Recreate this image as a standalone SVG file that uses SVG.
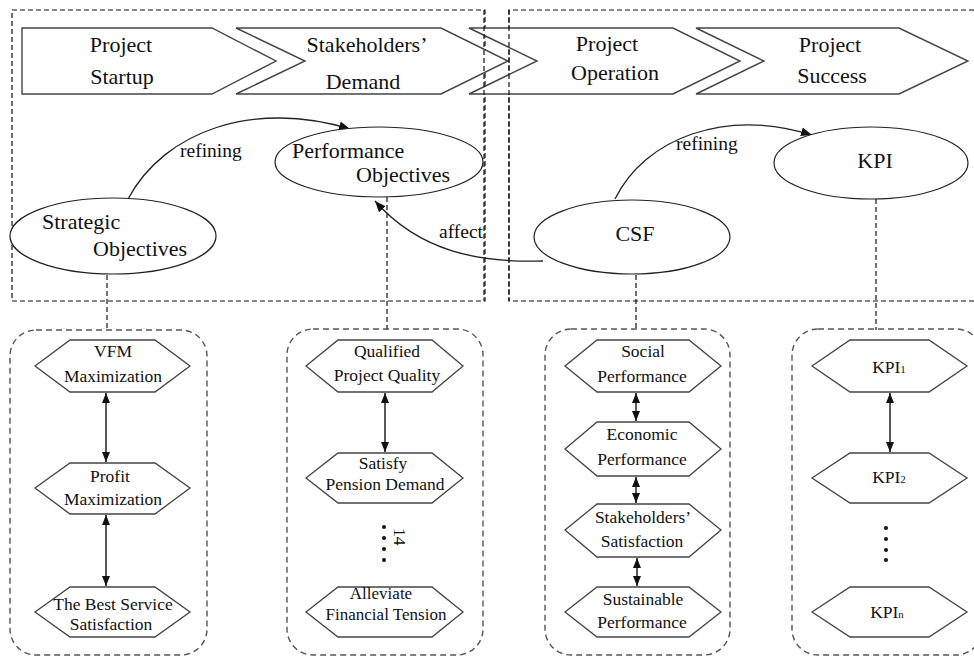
<svg xmlns="http://www.w3.org/2000/svg" width="974" height="657" viewBox="0 0 974 657">
<defs>
<style>
.t{font-family:"Liberation Serif",serif;fill:#111;}
.b{font-size:22px;}
.l{font-size:19.5px;}
.s{font-size:17.5px;}
.ch{fill:#fff;stroke:#444;stroke-width:1.4;}
.el{fill:#fff;stroke:#222;stroke-width:1.2;}
.hx{fill:#fff;stroke:#444;stroke-width:1.3;}
.frame{fill:none;stroke:#111;stroke-width:1.2;stroke-dasharray:5,3;}
.grp{fill:none;stroke:#555;stroke-width:1.4;stroke-dasharray:6,4;}
.dl{fill:none;stroke:#111;stroke-width:1.2;stroke-dasharray:5,3;}
.cv{fill:none;stroke:#222;stroke-width:1.3;}
.ar{fill:none;stroke:#111;stroke-width:1.4;marker-start:url(#ah);marker-end:url(#ah);}
</style>
<marker id="ah" viewBox="0 0 10 10" refX="10" refY="5" markerWidth="10" markerHeight="10" markerUnits="userSpaceOnUse" orient="auto-start-reverse">
<path d="M0,1 L10,5 L0,9 Z" fill="#111"/>
</marker>
<marker id="ae" viewBox="0 0 10 10" refX="10" refY="5" markerWidth="11" markerHeight="11" markerUnits="userSpaceOnUse" orient="auto">
<path d="M0,1 L10,5 L0,9 Z" fill="#111"/>
</marker>
</defs>

<g id="frames">
<rect class="frame" x="12" y="10" width="473" height="291"/>
<path class="frame" d="M974,10 L509,10 L509,301 L974,301"/>
</g>

<g id="stage-startup">
<path class="ch" d="M22,28 L212,28 L276,61 L212,94 L22,94 Z"/>
<text class="t b" font-family="Liberation Serif" x="121" y="52" text-anchor="middle">Project</text>
<text class="t b" font-family="Liberation Serif" x="122" y="84" text-anchor="middle">Startup</text>
</g>
<g id="stage-demand">
<path class="ch" d="M236,28 L441,28 L508,61 L441,94 L236,94 L305,61 Z"/>
<text class="t b" font-family="Liberation Serif" x="367" y="52" text-anchor="middle">Stakeholders’</text>
<text class="t b" font-family="Liberation Serif" x="363" y="89" text-anchor="middle">Demand</text>
</g>
<g id="stage-operation">
<path class="ch" d="M469,28 L673,28 L740,61 L673,94 L469,94 L537,61 Z"/>
<text class="t b" font-family="Liberation Serif" x="607" y="51" text-anchor="middle">Project</text>
<text class="t b" font-family="Liberation Serif" x="615" y="80" text-anchor="middle">Operation</text>
</g>
<g id="stage-success">
<path class="ch" d="M696,28 L899,28 L968,61 L899,94 L696,94 L764,61 Z"/>
<text class="t b" font-family="Liberation Serif" x="830" y="52" text-anchor="middle">Project</text>
<text class="t b" font-family="Liberation Serif" x="832" y="83" text-anchor="middle">Success</text>
</g>
<g id="frame-line">
<line class="dl" x1="484" y1="10" x2="484" y2="301"/>
<line class="dl" x1="509" y1="10" x2="509" y2="301"/>
</g>

<g id="connectors">
<line class="dl" x1="107" y1="275" x2="107" y2="331"/>
<line class="dl" x1="387" y1="197" x2="387" y2="330"/>
<line class="dl" x1="636" y1="275" x2="636" y2="330"/>
<line class="dl" x1="876" y1="199" x2="876" y2="330"/>
<path class="cv" d="M128,199 C165,130 255,100 350,129" marker-end="url(#ae)"/>
<path class="cv" d="M615,199 C645,138 725,108 812,135" marker-end="url(#ae)"/>
<path class="cv" d="M543,261 C480,263 420,252 375,201" marker-end="url(#ae)"/>
<text class="t l" font-family="Liberation Serif" x="180" y="157">refining</text>
<text class="t l" font-family="Liberation Serif" x="676" y="150">refining</text>
<text class="t l" font-family="Liberation Serif" x="439" y="238">affect</text>
</g>

<g id="strategic-objectives">
<ellipse class="el" cx="113" cy="236" rx="103" ry="38"/>
<text class="t b" font-family="Liberation Serif" x="42" y="229">Strategic</text>
<text class="t b" font-family="Liberation Serif" x="93" y="256">Objectives</text>
</g>
<g id="performance-objectives">
<ellipse class="el" cx="379" cy="162" rx="104" ry="35"/>
<text class="t b" font-family="Liberation Serif" x="292" y="158">Performance</text>
<text class="t b" font-family="Liberation Serif" x="356" y="182">Objectives</text>
</g>
<g id="csf">
<ellipse class="el" cx="632" cy="237" rx="98" ry="37"/>
<text class="t b" font-family="Liberation Serif" x="635" y="241" text-anchor="middle">CSF</text>
</g>
<g id="kpi">
<ellipse class="el" cx="871" cy="163" rx="97" ry="36"/>
<text class="t b" font-family="Liberation Serif" x="875" y="168" text-anchor="middle">KPI</text>
</g>

<g id="group-strategic">
<rect class="grp" x="10" y="330" width="197" height="325" rx="26"/>
<path class="hx" d="M35,366 L70,340 L155,340 L190,366 L155,392 L70,392 Z"/>
<text class="t s" font-family="Liberation Serif" x="113" y="357" text-anchor="middle">VFM</text>
<text class="t s" font-family="Liberation Serif" x="113" y="382" text-anchor="middle">Maximization</text>
<path class="hx" d="M35,488 L70,463 L155,463 L190,488 L155,514 L70,514 Z"/>
<text class="t s" font-family="Liberation Serif" x="110" y="482" text-anchor="middle">Profit</text>
<text class="t s" font-family="Liberation Serif" x="113" y="505" text-anchor="middle">Maximization</text>
<path class="hx" d="M35,612 L70,587 L155,587 L190,612 L155,637 L70,637 Z"/>
<text class="t s" font-family="Liberation Serif" x="113" y="610" text-anchor="middle">The Best Service</text>
<text class="t s" font-family="Liberation Serif" x="111" y="630" text-anchor="middle">Satisfaction</text>
<line class="ar" x1="106" y1="393" x2="106" y2="462"/>
<line class="ar" x1="106" y1="515" x2="106" y2="586"/>
</g>

<g id="group-performance">
<rect class="grp" x="287" y="329" width="196" height="326" rx="26"/>
<path class="hx" d="M306,366 L338,340 L432,340 L463,366 L432,392 L338,392 Z"/>
<text class="t s" font-family="Liberation Serif" x="387" y="357" text-anchor="middle">Qualified</text>
<text class="t s" font-family="Liberation Serif" x="387" y="381" text-anchor="middle">Project Quality</text>
<path class="hx" d="M306,478 L338,453 L432,453 L463,478 L432,503 L338,503 Z"/>
<text class="t s" font-family="Liberation Serif" x="383" y="469" text-anchor="middle">Satisfy</text>
<text class="t s" font-family="Liberation Serif" x="385" y="490" text-anchor="middle">Pension Demand</text>
<path class="hx" d="M306,612 L338,587 L432,587 L463,612 L432,637 L338,637 Z"/>
<text class="t" font-family="Liberation Serif" font-size="17" x="381" y="599" text-anchor="middle">Alleviate</text>
<text class="t" font-family="Liberation Serif" font-size="17" x="386" y="620" text-anchor="middle">Financial Tension</text>
<line class="ar" x1="385" y1="393" x2="385" y2="452"/>
<circle cx="384" cy="527" r="2" fill="#111"/>
<circle cx="384" cy="538" r="2" fill="#111"/>
<circle cx="384" cy="549" r="2" fill="#111"/>
<circle cx="384" cy="560" r="2" fill="#111"/>
<text class="t s" font-family="Liberation Serif" x="0" y="0" transform="translate(394,528) rotate(90)">14</text>
</g>

<g id="group-csf">
<rect class="grp" x="545" y="329" width="185" height="326" rx="26"/>
<path class="hx" d="M565,366 L597,340 L689,340 L721,366 L689,392 L597,392 Z"/>
<text class="t s" font-family="Liberation Serif" x="643" y="357" text-anchor="middle">Social</text>
<text class="t s" font-family="Liberation Serif" x="642" y="382" text-anchor="middle">Performance</text>
<path class="hx" d="M565,449 L597,422 L689,422 L721,449 L689,476 L597,476 Z"/>
<text class="t s" font-family="Liberation Serif" x="642" y="440" text-anchor="middle">Economic</text>
<text class="t s" font-family="Liberation Serif" x="642" y="465" text-anchor="middle">Performance</text>
<path class="hx" d="M565,530 L597,504 L689,504 L721,530 L689,557 L597,557 Z"/>
<text class="t s" font-family="Liberation Serif" x="643" y="523" text-anchor="middle">Stakeholders’</text>
<text class="t s" font-family="Liberation Serif" x="642" y="547" text-anchor="middle">Satisfaction</text>
<path class="hx" d="M565,612 L597,587 L689,587 L721,612 L689,637 L597,637 Z"/>
<text class="t s" font-family="Liberation Serif" x="643" y="605" text-anchor="middle">Sustainable</text>
<text class="t s" font-family="Liberation Serif" x="642" y="628" text-anchor="middle">Performance</text>
<line class="ar" x1="636" y1="393" x2="636" y2="421"/>
<line class="ar" x1="636" y1="477" x2="636" y2="503"/>
<line class="ar" x1="637" y1="558" x2="637" y2="586"/>
</g>

<g id="group-kpi">
<rect class="grp" x="792" y="329" width="190" height="326" rx="26"/>
<path class="hx" d="M812,366 L850,340 L929,340 L967,366 L929,392 L850,392 Z"/>
<text class="t s" font-family="Liberation Serif" x="889" y="373" text-anchor="middle">KPI<tspan font-size="11">1</tspan></text>
<path class="hx" d="M812,478 L850,453 L929,453 L967,478 L929,503 L850,503 Z"/>
<text class="t s" font-family="Liberation Serif" x="889" y="483" text-anchor="middle">KPI<tspan font-size="11">2</tspan></text>
<path class="hx" d="M812,612 L850,587 L929,587 L967,612 L929,637 L850,637 Z"/>
<text class="t s" font-family="Liberation Serif" x="887" y="618" text-anchor="middle">KPI<tspan font-size="11">n</tspan></text>
<line class="ar" x1="890" y1="393" x2="890" y2="452"/>
<circle cx="886" cy="528" r="2" fill="#111"/>
<circle cx="886" cy="539" r="2" fill="#111"/>
<circle cx="886" cy="550" r="2" fill="#111"/>
<circle cx="886" cy="560" r="2" fill="#111"/>
</g>
</svg>
